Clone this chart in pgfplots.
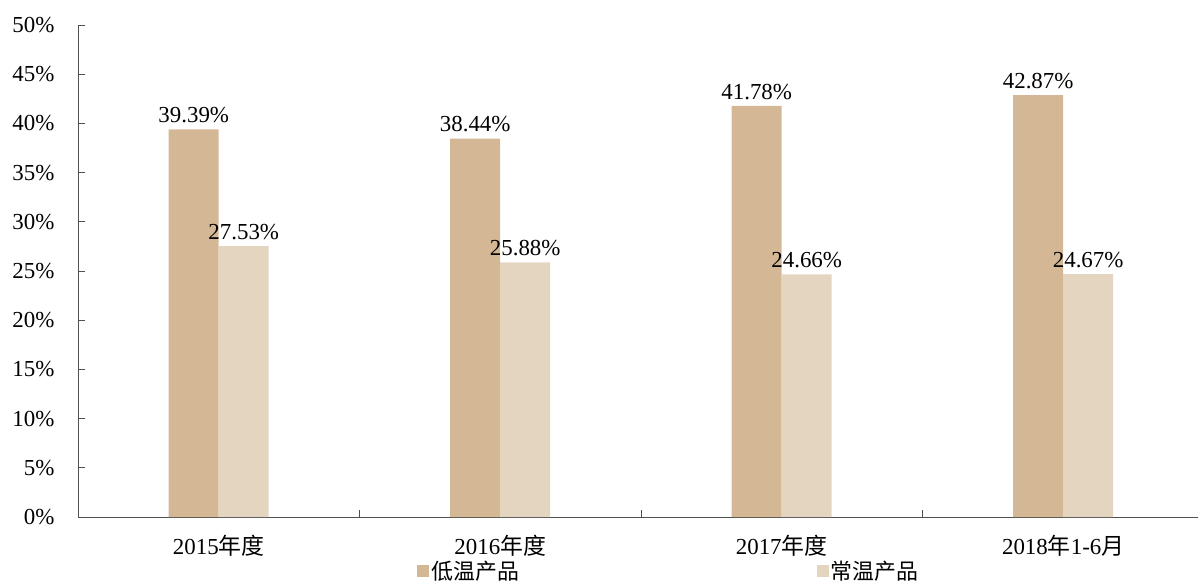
\documentclass[border=0pt]{standalone}
\usepackage{fontspec}
\setmainfont{Liberation Serif}
\newfontfamily\cjk{Noto Sans CJK SC}
\usepackage{pgfplots}
\pgfplotsset{compat=1.18}

\definecolor{lowT}{HTML}{D4B896}
\definecolor{roomT}{HTML}{E3D5C0}
\definecolor{axisgray}{HTML}{505050}

\begin{document}
\begin{tikzpicture}
\useasboundingbox (-78bp,-68bp) rectangle (1120bp,517bp);
\begin{axis}[
    at={(0,0)}, anchor=south west,
    scale only axis,
    width=1120bp, height=492bp,
    ybar=0pt, bar width=50bp,
    xmin=-0.5, xmax=3.479,
    ymin=0, ymax=50,
    axis lines*=left,
    axis line style={axisgray, line width=0.8pt},
    tick style={axisgray, line width=0.8pt},
    tick align=inside,
    font=\fontsize{23}{26}\selectfont,
    /pgf/number format/assume math mode=true,
    xtick={0.5,1.5,2.5},
    xticklabels={},
    extra x ticks={0,1,2,3},
    extra x tick labels={2015{\cjk 年度},2016{\cjk 年度},2017{\cjk 年度},2018{\cjk 年}1-6{\cjk 月}},
    extra x tick style={major tick length=0pt, xticklabel style={yshift=-15bp}},
    ytick={0,5,...,50},
    yticklabels={0\%,5\%,10\%,15\%,20\%,25\%,30\%,35\%,40\%,45\%,50\%},
    yticklabel style={xshift=-20bp},
    major tick length=7bp,
    nodes near coords={\pgfmathprintnumber[fixed,precision=2,fixed zerofill]{\pgfplotspointmeta}\%},
    every node near coord/.append style={yshift=3bp, font=\fontsize{23}{26}\selectfont},
    legend columns=2,
    legend style={draw=none, fill=none, at={(591bp,-66bp)}, anchor=south,
        inner sep=0pt,
        font=\fontsize{22}{24}\selectfont\cjk,
        /tikz/every even column/.append style={column sep=296bp},
        /tikz/every odd column/.append style={column sep=0bp}},
    legend image code/.code={\fill[#1] (0bp,-6bp) rectangle (12bp,6bp);},
]
\addplot[fill=lowT, draw=none] coordinates {(0,39.39) (1,38.44) (2,41.78) (3,42.87)};
\addplot[fill=roomT, draw=none] coordinates {(0,27.53) (1,25.88) (2,24.66) (3,24.67)};
\legend{低温产品,常温产品}
\end{axis}
\end{tikzpicture}
\end{document}
